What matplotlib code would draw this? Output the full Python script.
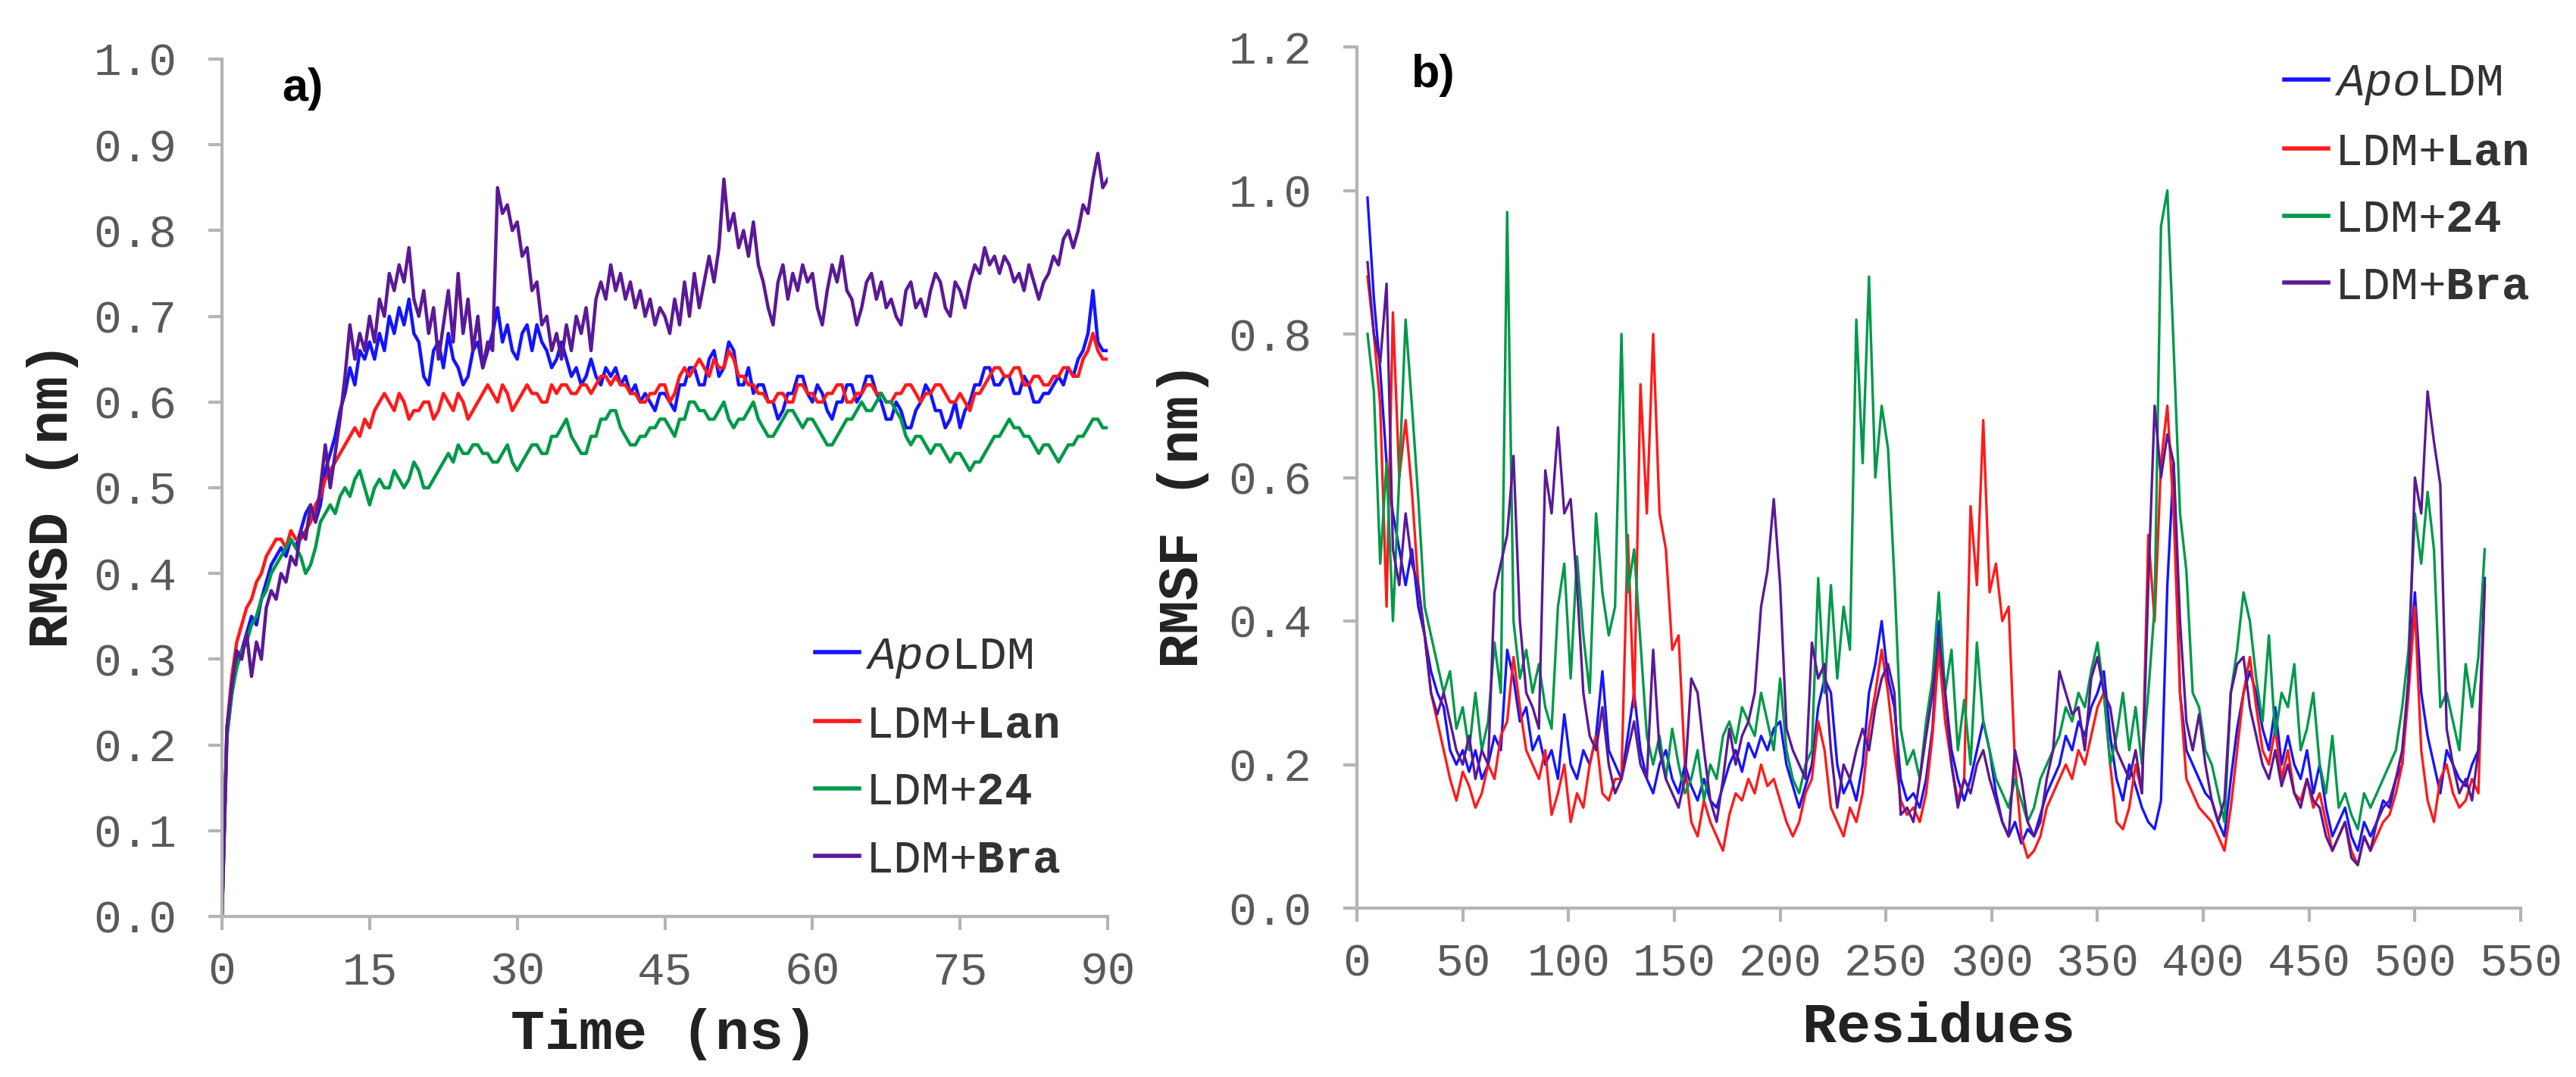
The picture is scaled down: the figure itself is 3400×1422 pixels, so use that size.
import numpy as np
import matplotlib
matplotlib.use("Agg")
import matplotlib.pyplot as plt

# ---- data ----
# RMSD (nm), one value every 0.5 ns from 0 to 90 ns
rmsd_apo = [0.00,0.21,0.26,0.30,0.31,0.33,0.35,0.34,0.37,0.39,
            0.41,0.42,0.43,0.42,0.44,0.43,0.45,0.47,0.48,0.46,
            0.48,0.52,0.54,0.56,0.59,0.61,0.64,0.62,0.66,0.65,
            0.67,0.65,0.68,0.66,0.70,0.68,0.71,0.69,0.72,0.68,
            0.67,0.63,0.62,0.66,0.67,0.64,0.68,0.65,0.64,0.62,
            0.63,0.66,0.67,0.64,0.66,0.68,0.71,0.67,0.69,0.66,
            0.65,0.68,0.69,0.66,0.69,0.67,0.66,0.64,0.65,0.67,
            0.65,0.63,0.64,0.62,0.63,0.65,0.63,0.62,0.64,0.63,
            0.64,0.62,0.63,0.61,0.62,0.60,0.61,0.60,0.59,0.61,
            0.61,0.60,0.59,0.62,0.62,0.64,0.64,0.62,0.62,0.65,
            0.66,0.63,0.64,0.67,0.66,0.62,0.62,0.64,0.61,0.62,
            0.62,0.60,0.60,0.58,0.59,0.61,0.61,0.63,0.63,0.61,
            0.60,0.62,0.61,0.59,0.58,0.60,0.60,0.62,0.62,0.60,
            0.61,0.63,0.63,0.61,0.60,0.58,0.58,0.60,0.59,0.57,
            0.57,0.59,0.60,0.62,0.61,0.59,0.59,0.57,0.58,0.60,
            0.57,0.59,0.60,0.62,0.62,0.64,0.64,0.62,0.62,0.63,
            0.63,0.61,0.61,0.63,0.62,0.60,0.60,0.61,0.61,0.62,
            0.63,0.62,0.64,0.63,0.65,0.66,0.68,0.73,0.67,0.66,
            0.66]
rmsd_lan = [0.00,0.22,0.28,0.32,0.34,0.36,0.37,0.39,0.40,0.42,
            0.43,0.44,0.44,0.43,0.45,0.44,0.44,0.45,0.46,0.48,
            0.49,0.51,0.52,0.53,0.54,0.55,0.56,0.57,0.56,0.58,
            0.57,0.59,0.60,0.61,0.60,0.59,0.61,0.60,0.58,0.59,
            0.59,0.60,0.60,0.58,0.59,0.61,0.60,0.59,0.61,0.60,
            0.58,0.59,0.60,0.61,0.62,0.61,0.60,0.62,0.61,0.59,
            0.60,0.61,0.62,0.61,0.61,0.60,0.60,0.62,0.61,0.62,
            0.62,0.61,0.61,0.62,0.62,0.61,0.62,0.63,0.63,0.62,
            0.63,0.62,0.62,0.61,0.61,0.60,0.60,0.61,0.61,0.62,
            0.62,0.60,0.61,0.63,0.64,0.63,0.64,0.65,0.64,0.63,
            0.65,0.64,0.64,0.66,0.65,0.63,0.63,0.62,0.62,0.61,
            0.61,0.60,0.60,0.61,0.61,0.60,0.60,0.62,0.62,0.61,
            0.61,0.60,0.60,0.61,0.61,0.62,0.62,0.60,0.60,0.61,
            0.61,0.62,0.62,0.61,0.61,0.60,0.60,0.61,0.61,0.62,
            0.62,0.61,0.60,0.61,0.61,0.62,0.62,0.61,0.60,0.60,
            0.61,0.60,0.59,0.61,0.61,0.62,0.63,0.64,0.64,0.63,
            0.63,0.64,0.64,0.62,0.62,0.63,0.63,0.62,0.62,0.63,
            0.63,0.64,0.64,0.63,0.63,0.65,0.66,0.68,0.66,0.65,
            0.65]
rmsd_24 = [0.00,0.21,0.26,0.29,0.31,0.32,0.34,0.35,0.37,0.38,
           0.40,0.41,0.42,0.43,0.44,0.43,0.42,0.40,0.41,0.43,
           0.46,0.47,0.48,0.47,0.49,0.50,0.49,0.51,0.52,0.50,
           0.48,0.50,0.51,0.50,0.50,0.52,0.51,0.50,0.51,0.53,
           0.52,0.50,0.50,0.51,0.52,0.53,0.54,0.53,0.55,0.54,
           0.54,0.55,0.55,0.54,0.54,0.53,0.53,0.54,0.55,0.53,
           0.52,0.53,0.54,0.55,0.55,0.54,0.54,0.56,0.56,0.57,
           0.58,0.56,0.55,0.54,0.54,0.56,0.56,0.58,0.58,0.59,
           0.59,0.57,0.56,0.55,0.55,0.56,0.56,0.57,0.57,0.58,
           0.58,0.57,0.56,0.58,0.58,0.60,0.60,0.59,0.59,0.58,
           0.58,0.59,0.60,0.58,0.57,0.58,0.58,0.59,0.60,0.58,
           0.57,0.56,0.56,0.57,0.58,0.59,0.59,0.58,0.57,0.58,
           0.58,0.57,0.56,0.55,0.55,0.56,0.57,0.58,0.58,0.59,
           0.60,0.59,0.59,0.60,0.61,0.60,0.60,0.59,0.58,0.56,
           0.55,0.56,0.56,0.55,0.54,0.55,0.55,0.54,0.53,0.54,
           0.54,0.53,0.52,0.53,0.53,0.54,0.55,0.56,0.56,0.57,
           0.58,0.57,0.57,0.56,0.56,0.55,0.54,0.55,0.55,0.54,
           0.53,0.54,0.55,0.55,0.56,0.56,0.57,0.58,0.58,0.57,
           0.57]
rmsd_bra = [0.00,0.22,0.27,0.31,0.30,0.33,0.28,0.32,0.30,0.36,
            0.38,0.37,0.40,0.39,0.42,0.41,0.45,0.44,0.48,0.46,
            0.50,0.55,0.50,0.54,0.58,0.63,0.69,0.65,0.68,0.66,
            0.70,0.67,0.72,0.70,0.75,0.73,0.76,0.74,0.78,0.72,
            0.70,0.73,0.68,0.71,0.65,0.69,0.73,0.67,0.75,0.68,
            0.72,0.66,0.70,0.64,0.67,0.66,0.85,0.82,0.83,0.80,
            0.81,0.77,0.78,0.73,0.74,0.69,0.70,0.66,0.68,0.65,
            0.69,0.66,0.70,0.68,0.71,0.66,0.72,0.74,0.72,0.76,
            0.73,0.75,0.72,0.74,0.71,0.73,0.70,0.72,0.69,0.71,
            0.70,0.68,0.72,0.69,0.74,0.70,0.75,0.71,0.74,0.77,
            0.74,0.78,0.86,0.80,0.82,0.78,0.80,0.77,0.81,0.76,
            0.74,0.71,0.69,0.74,0.76,0.72,0.75,0.73,0.76,0.74,
            0.75,0.71,0.69,0.73,0.76,0.74,0.77,0.73,0.72,0.69,
            0.71,0.74,0.75,0.72,0.74,0.71,0.72,0.70,0.69,0.73,
            0.74,0.71,0.72,0.70,0.73,0.75,0.74,0.71,0.70,0.74,
            0.73,0.71,0.74,0.76,0.75,0.78,0.76,0.77,0.75,0.77,
            0.76,0.74,0.75,0.73,0.76,0.74,0.72,0.74,0.75,0.77,
            0.76,0.79,0.80,0.78,0.80,0.83,0.82,0.86,0.89,0.85,
            0.86]

# RMSF (nm), one value every 3 residues starting at residue 5
rmsf_apo = [0.99,0.85,0.75,0.62,0.55,0.50,0.45,0.50,0.42,0.38,
            0.33,0.30,0.28,0.22,0.20,0.22,0.19,0.22,0.18,0.20,
            0.24,0.22,0.36,0.32,0.26,0.28,0.22,0.24,0.20,0.22,
            0.18,0.27,0.20,0.18,0.22,0.20,0.24,0.33,0.22,0.20,
            0.18,0.24,0.30,0.22,0.18,0.16,0.20,0.22,0.18,0.16,
            0.20,0.17,0.15,0.18,0.15,0.14,0.17,0.20,0.22,0.19,
            0.23,0.21,0.24,0.22,0.25,0.26,0.20,0.17,0.14,0.17,
            0.20,0.28,0.32,0.30,0.20,0.16,0.18,0.15,0.20,0.30,
            0.34,0.40,0.32,0.28,0.18,0.15,0.16,0.14,0.18,0.25,
            0.40,0.30,0.22,0.18,0.15,0.18,0.22,0.26,0.22,0.16,
            0.12,0.10,0.12,0.09,0.11,0.10,0.13,0.16,0.18,0.20,
            0.24,0.22,0.26,0.24,0.28,0.30,0.33,0.24,0.18,0.15,
            0.20,0.17,0.14,0.12,0.11,0.15,0.45,0.62,0.30,0.22,
            0.20,0.18,0.16,0.15,0.12,0.10,0.18,0.25,0.30,0.33,
            0.30,0.25,0.22,0.28,0.20,0.24,0.20,0.18,0.22,0.16,
            0.20,0.14,0.10,0.12,0.14,0.10,0.08,0.12,0.10,0.12,
            0.15,0.14,0.18,0.20,0.32,0.44,0.30,0.24,0.20,0.16,
            0.22,0.20,0.18,0.17,0.20,0.22,0.46]
rmsf_lan = [0.88,0.80,0.70,0.42,0.83,0.60,0.68,0.58,0.45,0.38,
            0.30,0.26,0.22,0.18,0.15,0.19,0.17,0.14,0.16,0.20,
            0.18,0.24,0.26,0.35,0.28,0.22,0.20,0.18,0.22,0.13,
            0.16,0.20,0.12,0.16,0.14,0.20,0.24,0.16,0.15,0.18,
            0.18,0.52,0.28,0.73,0.55,0.80,0.55,0.50,0.36,0.38,
            0.20,0.12,0.10,0.15,0.12,0.10,0.08,0.13,0.16,0.15,
            0.18,0.16,0.20,0.17,0.18,0.15,0.12,0.10,0.12,0.16,
            0.18,0.26,0.22,0.14,0.12,0.10,0.14,0.12,0.16,0.25,
            0.30,0.36,0.30,0.22,0.15,0.13,0.14,0.12,0.16,0.24,
            0.36,0.26,0.20,0.15,0.18,0.56,0.45,0.68,0.44,0.48,
            0.40,0.42,0.20,0.10,0.07,0.08,0.10,0.14,0.16,0.18,
            0.20,0.18,0.22,0.20,0.24,0.28,0.30,0.20,0.12,0.11,
            0.14,0.20,0.16,0.52,0.40,0.62,0.70,0.55,0.30,0.18,
            0.16,0.14,0.13,0.12,0.10,0.08,0.14,0.22,0.30,0.35,
            0.28,0.22,0.20,0.25,0.18,0.22,0.16,0.15,0.18,0.14,
            0.16,0.12,0.08,0.10,0.12,0.08,0.06,0.10,0.08,0.10,
            0.12,0.13,0.16,0.20,0.30,0.42,0.22,0.15,0.12,0.18,
            0.20,0.16,0.14,0.15,0.18,0.16,0.45]
rmsf_24 = [0.80,0.72,0.48,0.62,0.40,0.60,0.82,0.70,0.57,0.42,
           0.38,0.34,0.30,0.33,0.25,0.28,0.22,0.30,0.22,0.26,
           0.37,0.30,0.97,0.40,0.32,0.36,0.30,0.34,0.28,0.25,
           0.42,0.48,0.32,0.49,0.38,0.30,0.55,0.44,0.38,0.42,
           0.80,0.44,0.50,0.37,0.24,0.20,0.24,0.18,0.25,0.20,
           0.16,0.18,0.22,0.15,0.20,0.18,0.24,0.26,0.23,0.28,
           0.26,0.24,0.30,0.26,0.22,0.32,0.22,0.18,0.16,0.20,
           0.22,0.46,0.30,0.45,0.32,0.42,0.36,0.82,0.62,0.88,
           0.60,0.70,0.64,0.46,0.25,0.20,0.22,0.18,0.26,0.32,
           0.44,0.30,0.36,0.22,0.29,0.20,0.37,0.26,0.22,0.18,
           0.16,0.14,0.18,0.15,0.12,0.14,0.18,0.20,0.22,0.24,
           0.28,0.26,0.30,0.28,0.33,0.37,0.30,0.20,0.24,0.30,
           0.22,0.28,0.20,0.30,0.42,0.95,1.00,0.78,0.55,0.47,
           0.30,0.28,0.22,0.20,0.16,0.12,0.30,0.36,0.44,0.40,
           0.32,0.26,0.38,0.24,0.30,0.28,0.34,0.22,0.25,0.30,
           0.20,0.16,0.24,0.14,0.16,0.13,0.11,0.16,0.14,0.16,
           0.18,0.20,0.22,0.28,0.36,0.55,0.48,0.58,0.50,0.28,
           0.30,0.26,0.22,0.34,0.28,0.35,0.50]
rmsf_bra = [0.90,0.80,0.76,0.87,0.50,0.45,0.55,0.48,0.45,0.38,
            0.30,0.27,0.30,0.26,0.22,0.20,0.24,0.18,0.22,0.20,
            0.44,0.48,0.52,0.63,0.40,0.30,0.28,0.25,0.61,0.55,
            0.67,0.55,0.57,0.45,0.30,0.24,0.22,0.28,0.20,0.16,
            0.18,0.22,0.26,0.20,0.18,0.36,0.22,0.18,0.16,0.14,
            0.18,0.32,0.30,0.22,0.15,0.12,0.18,0.25,0.20,0.24,
            0.26,0.30,0.42,0.47,0.57,0.45,0.25,0.22,0.20,0.18,
            0.37,0.32,0.34,0.22,0.14,0.20,0.18,0.22,0.25,0.22,
            0.28,0.32,0.34,0.30,0.13,0.14,0.12,0.18,0.24,0.30,
            0.38,0.30,0.20,0.14,0.18,0.16,0.20,0.22,0.18,0.15,
            0.12,0.10,0.22,0.18,0.12,0.10,0.12,0.18,0.22,0.33,
            0.30,0.27,0.28,0.22,0.32,0.35,0.30,0.28,0.22,0.20,
            0.18,0.22,0.16,0.45,0.70,0.60,0.66,0.62,0.40,0.26,
            0.22,0.27,0.20,0.15,0.12,0.15,0.30,0.34,0.35,0.28,
            0.24,0.20,0.18,0.22,0.17,0.20,0.16,0.14,0.18,0.15,
            0.14,0.10,0.08,0.10,0.12,0.07,0.06,0.10,0.08,0.12,
            0.14,0.15,0.18,0.22,0.32,0.60,0.55,0.72,0.65,0.59,
            0.25,0.20,0.16,0.18,0.15,0.22,0.45]

labels = [r'$\mathit{Apo}$LDM', r'LDM+$\mathbf{Lan}$',
          r'LDM+$\mathbf{24}$', r'LDM+$\mathbf{Bra}$']
colors = ['#1414ff', '#ff1a1a', '#00994a', '#5a1996']

time_step = 0.5
res_start, res_step = 5, 3

plt.rcParams['font.family'] = ['Liberation Mono', 'DejaVu Sans Mono']
plt.rcParams['mathtext.fontset'] = 'custom'
plt.rcParams['mathtext.rm'] = 'Liberation Mono'
plt.rcParams['mathtext.it'] = 'Liberation Mono:italic'
plt.rcParams['mathtext.bf'] = 'Liberation Mono:bold'

W, H = 3400, 1422
fig = plt.figure(figsize=(W / 100, H / 100), dpi=100)
axa = fig.add_axes([293 / W, 1 - 1210 / H, (1462 - 293) / W, (1210 - 78) / H])
axb = fig.add_axes([1791 / W, 1 - 1199 / H, (3327 - 1791) / W, (1199 - 62) / H])

spine_c = '#b4b4b4'
tick_c = '#5a5a5a'


def style(ax):
    for s in ['top', 'right']:
        ax.spines[s].set_visible(False)
    for s in ['left', 'bottom']:
        ax.spines[s].set_color(spine_c)
        ax.spines[s].set_linewidth(3)
    ax.tick_params(direction='out', length=13, width=3, color=spine_c,
                   labelcolor=tick_c, labelsize=44)
    ax.tick_params(axis='y', pad=30)
    ax.tick_params(axis='x', pad=20)


def add_legend(ax, anchor):
    leg = ax.legend(loc='upper left', bbox_to_anchor=anchor, frameon=False,
                    fontsize=44, handlelength=0.95, handletextpad=0.12,
                    labelspacing=0.52, borderpad=0, borderaxespad=0)
    for tx in leg.get_texts():
        tx.set_color('#333333')
    for ln in leg.get_lines():
        ln.set_linewidth(4)


# a) RMSD
for vals, c, lab in zip([rmsd_apo, rmsd_lan, rmsd_24, rmsd_bra], colors, labels):
    t = np.arange(len(vals)) * time_step
    axa.plot(t, vals, color=c, lw=3.2, label=lab)
axa.set_xlim(0, 90)
axa.set_ylim(0, 1.0)
axa.set_xticks(np.arange(0, 91, 15))
axa.set_yticks(np.arange(0, 1.01, 0.1))
axa.yaxis.set_major_formatter(matplotlib.ticker.FormatStrFormatter('%.1f'))
style(axa)
axa.text(0.068, 0.965, 'a)', transform=axa.transAxes, fontsize=44,
         fontweight='bold', family='Liberation Sans', va='center', ha='left')
add_legend(axa, (0.670, 0.328))

# b) RMSF
for vals, c, lab in zip([rmsf_apo, rmsf_lan, rmsf_24, rmsf_bra], colors, labels):
    r = res_start + np.arange(len(vals)) * res_step
    axb.plot(r, vals, color=c, lw=2.4, label=lab)
axb.set_xlim(0, 550)
axb.set_ylim(0, 1.2)
axb.set_xticks(np.arange(0, 551, 50))
axb.set_yticks(np.arange(0, 1.21, 0.2))
axb.yaxis.set_major_formatter(matplotlib.ticker.FormatStrFormatter('%.1f'))
style(axb)
axb.text(0.047, 0.967, 'b)', transform=axb.transAxes, fontsize=44,
         fontweight='bold', family='Liberation Sans', va='center', ha='left')
add_legend(axb, (0.797, 0.982))

# axis titles
lab_kw = dict(fontsize=54, fontweight='bold', color='#222222', ha='center', va='center')
fig.text(877 / W, 1 - 1365 / H, 'Time (ns)', **lab_kw)
fig.text(2559 / W, 1 - 1356 / H, 'Residues', **lab_kw)
fig.text(70 / W, 1 - 653 / H, 'RMSD (nm)', rotation=90, **lab_kw)
fig.text(1561 / W, 1 - 680 / H, 'RMSF (nm)', rotation=90, **lab_kw)

fig.savefig('out.png', dpi=100, facecolor='white')
